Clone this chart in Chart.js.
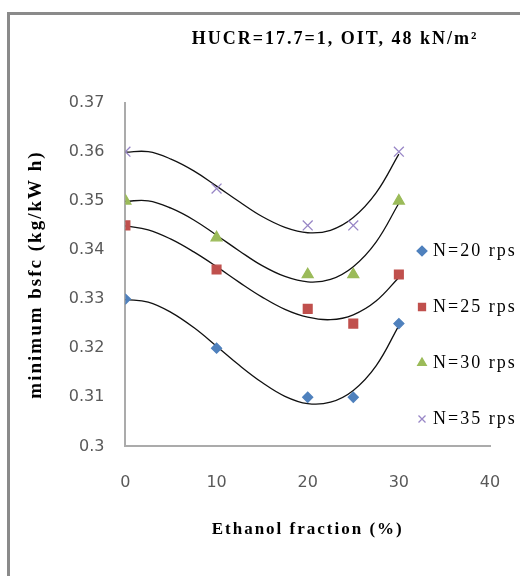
<!DOCTYPE html>
<html><head><meta charset="utf-8">
<script src="https://cdn.jsdelivr.net/npm/chart.js@4.4.1/dist/chart.umd.min.js"></script>
<style>
html,body{margin:0;padding:0;background:#fff;}
#wrap{position:relative;width:520px;height:576px;overflow:hidden;}
#frame{position:absolute;left:7px;top:12px;width:540px;height:600px;border-left:3px solid #8a8a8a;border-top:3px solid #8a8a8a;pointer-events:none;}
canvas{display:block;}
</style></head><body>
<div id="wrap"><canvas id="c" width="520" height="576"></canvas><div id="frame"></div></div>
<script>
const chartTitle = 'HUCR=17.7=1, OIT, 48 kN/m\u00B2';
const xTitle = 'Ethanol fraction (%)';
const yTitle = 'minimum bsfc (kg/kW h)';
const seriesNames = ['N=20 rps', 'N=25 rps', 'N=30 rps', 'N=35 rps'];
const fractions = [0, 10, 20, 25, 30];
const bsfc20 = [0.330, 0.320, 0.310, 0.310, 0.325];
const bsfc25 = [0.345, 0.336, 0.328, 0.325, 0.335];
const bsfc30 = [0.350, 0.3425, 0.335, 0.335, 0.350];
const bsfc35 = [0.360, 0.3525, 0.345, 0.345, 0.360];
// trend curves (polynomial trendlines)
const trendX = [0, 2.5, 5, 7.5, 10, 12.5, 15, 17.5, 20, 22.5, 25, 27.5, 30];
const trend20 = [0.3299, 0.3294, 0.3273, 0.3242, 0.3204, 0.3165, 0.3130, 0.3102, 0.3087, 0.3090, 0.3114, 0.3164, 0.3246];
const trend25 = [0.3449, 0.3441, 0.3422, 0.3396, 0.3366, 0.3334, 0.3304, 0.3279, 0.3263, 0.3258, 0.3268, 0.3296, 0.3344];
const trend30 = [0.3499, 0.3500, 0.3485, 0.3461, 0.3430, 0.3398, 0.3368, 0.3346, 0.3335, 0.3340, 0.3366, 0.3416, 0.3495];
const trend35 = [0.3599, 0.3600, 0.3585, 0.3561, 0.3530, 0.3498, 0.3468, 0.3446, 0.3435, 0.3440, 0.3466, 0.3516, 0.3595];
const xTicks = [0, 10, 20, 30, 40];
const xTickLabels = ['0', '10', '20', '30', '40'];
const yTicks = [0.30, 0.31, 0.32, 0.33, 0.34, 0.35, 0.36, 0.37];
const yTickLabels = ['0.3', '0.31', '0.32', '0.33', '0.34', '0.35', '0.36', '0.37'];

const pts = (xs, ys) => xs.map((x, i) => ({x: x, y: ys[i]}));

const markerStyles = [
  {pointStyle: 'rectRot', radius: 5, color: '#4F81BD'},
  {pointStyle: 'rect', radius: 6.2, color: '#C0504D'},
  {pointStyle: 'triangle', radius: 6.3, color: '#9BBB59'},
  {pointStyle: 'crossRot', radius: 7, color: '#9886C6'}
];
const seriesValues = [bsfc20, bsfc25, bsfc30, bsfc35];
const trendValues = [trend20, trend25, trend30, trend35];

const datasets = [];
seriesValues.forEach((vals, i) => {
  const m = markerStyles[i];
  datasets.push({
    label: seriesNames[i],
    data: pts(fractions, vals),
    pointStyle: m.pointStyle,
    pointRadius: m.radius,
    pointHoverRadius: m.radius,
    backgroundColor: m.color,
    borderColor: m.color,
    borderWidth: 1.3,
    showLine: false,
    order: 0
  });
});
trendValues.forEach((vals) => {
  datasets.push({
    label: '',
    data: pts(trendX, vals),
    showLine: true,
    borderColor: '#111',
    borderWidth: 1.3,
    pointRadius: 0,
    pointHoverRadius: 0,
    tension: 0.4,
    fill: false,
    order: 1
  });
});

const placePlugin = {
  id: 'place',
  afterLayout(chart) {
    const t = chart.titleBlock;
    if (t) { t.left = 135; t.right = 535; }
    const lg = chart.legend;
    if (lg) { lg.left = 382; lg.right = 520; lg.top = 204; lg.bottom = 576; lg.width = 138; lg.height = 372; }
  },
  beforeDraw(chart) { chart.ctx.letterSpacing = '2px'; },
  afterDatasetsDraw(chart) { chart.ctx.letterSpacing = '0px'; },
  afterDraw(chart) { chart.ctx.letterSpacing = '0px'; }
};

new Chart(document.getElementById('c'), {
  type: 'scatter',
  data: {datasets: datasets},
  plugins: [placePlugin],
  options: {
    responsive: false,
    animation: false,
    layout: {padding: {top: 0, left: 0, right: 30, bottom: 0}},
    plugins: {
      tooltip: {enabled: false},
      title: {
        display: true,
        text: chartTitle,
        color: '#000',
        font: {family: 'Liberation Serif', size: 18, weight: 'bold'},
        padding: {top: 29, bottom: 52}
      },
      legend: {
        display: true,
        position: 'chartArea',
        align: 'start',
        labels: {
          usePointStyle: true,
          boxWidth: 4,
          boxHeight: 7,
          padding: 38,
          color: '#000',
          font: {family: 'Liberation Serif', size: 18},
          filter: (item) => item.text !== ''
        }
      }
    },
    scales: {
      x: {
        type: 'linear',
        min: 0, max: 40,
        afterBuildTicks: (s) => { s.ticks = xTicks.map(v => ({value: v})); },
        afterFit: (s) => { s.paddingRight = 12; s.paddingLeft = 8; },
        ticks: {
          callback: (v, i) => xTickLabels[i],
          font: {family: 'DejaVu Sans', size: 16},
          color: '#595959',
          padding: 27,
          maxRotation: 0,
          autoSkip: false,
          z: 1
        },
        grid: {display: false, drawTicks: false},
        border: {display: true, color: '#ababab', width: 2},
        title: {
          display: true, text: xTitle, color: '#000',
          font: {family: 'Liberation Serif', size: 17, weight: 'bold'},
          padding: {top: 0, bottom: 36}
        }
      },
      y: {
        type: 'linear',
        min: 0.3, max: 0.37,
        afterBuildTicks: (s) => { s.ticks = yTicks.map(v => ({value: v})); },
        ticks: {
          callback: (v, i) => yTickLabels[i],
          font: {family: 'DejaVu Sans', size: 16},
          color: '#595959',
          padding: 21,
          autoSkip: false,
          z: 1
        },
        grid: {display: false, drawTicks: false},
        border: {display: true, color: '#ababab', width: 2},
        title: {
          display: true, text: yTitle, color: '#000',
          font: {family: 'Liberation Serif', size: 19, weight: 'bold'},
          padding: {top: 25, bottom: 0}
        }
      }
    }
  }
});
</script>
</body></html>
